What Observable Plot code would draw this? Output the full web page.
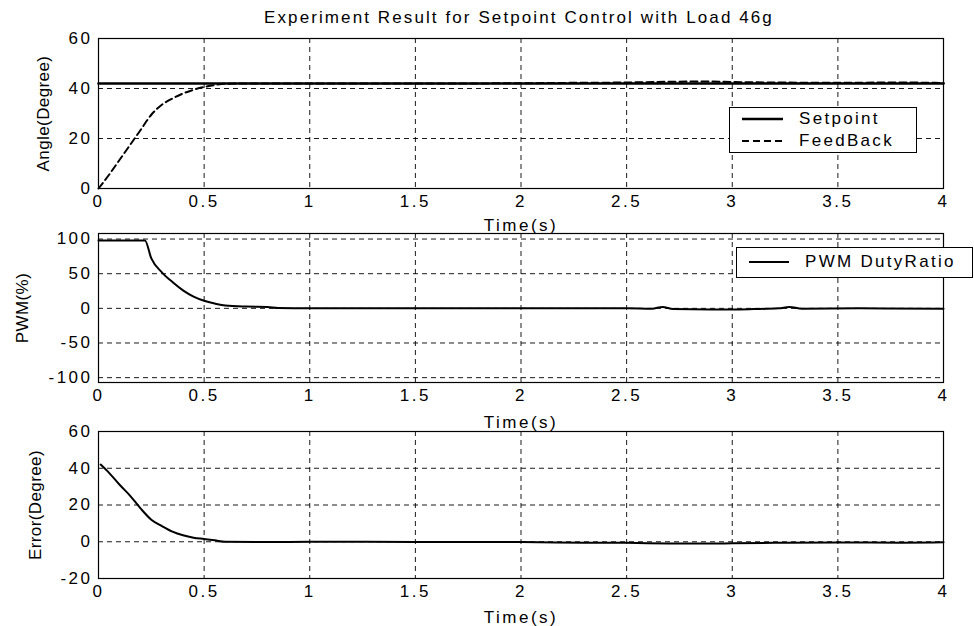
<!DOCTYPE html>
<html><head><meta charset="utf-8">
<script src="https://cdn.jsdelivr.net/npm/d3@7"></script>
<script src="https://cdn.jsdelivr.net/npm/@observablehq/plot@0.6"></script>
<style>
body{margin:0;background:#fff;}
#chart{position:relative;width:974px;height:626px;font-family:"Liberation Sans",Arial,sans-serif;color:#000;overflow:hidden;}
.panel{position:absolute;left:0;}
.title{position:absolute;top:8px;left:0;width:1038px;text-align:center;font-size:17px;letter-spacing:2.1px;white-space:nowrap;}
.legend{position:absolute;box-sizing:border-box;border:1px solid #000;background:#fff;font-size:17px;letter-spacing:2.3px;}
.legend .row{position:absolute;left:0;right:0;height:20px;}
.legend svg{position:absolute;top:0;}
.legend span{position:absolute;top:0;line-height:20px;white-space:nowrap;}
</style>
</head><body>
<div id="chart"><div class="title">Experiment Result for Setpoint Control with Load 46g</div></div>
<script>
// ---------- data ----------
const timeTicks = [0, 0.5, 1, 1.5, 2, 2.5, 3, 3.5, 4];

const setpointTime = [0, 4];
const setpointValues = [42, 42];

const feedbackTime = [0, 0.05, 0.1, 0.15, 0.2, 0.25, 0.3, 0.35, 0.4, 0.45, 0.5, 0.55, 0.6, 0.7, 0.8, 1.0, 1.5, 2.0, 2.3, 2.5, 2.7, 2.9, 3.0, 3.2, 3.5, 3.8, 4.0];
const feedbackValues = [0, 5.5, 11.5, 17.5, 23.5, 29.5, 33.5, 36, 38, 39.5, 40.6, 41.4, 41.9, 42, 42, 42, 42, 42.1, 42.3, 42.4, 42.7, 42.8, 42.6, 42.4, 42.3, 42.4, 42.2];

const pwmTime = [0, 0.22, 0.25, 0.3, 0.35, 0.4, 0.45, 0.5, 0.55, 0.6, 0.7, 0.8, 0.85, 1.0, 1.5, 2.0, 2.5, 2.62, 2.67, 2.72, 2.9, 3.0, 3.1, 3.22, 3.27, 3.33, 3.6, 4.0];
const pwmValues = [98, 98, 72, 52, 38, 26, 17, 11, 7, 4, 2.5, 2, 0.5, 0, 0, 0, 0, -0.5, 2, -1, -1.5, -1.5, -1, 0, 2, -0.5, 0, -0.5];

const errorTime = [0.01, 0.05, 0.1, 0.15, 0.2, 0.25, 0.3, 0.35, 0.4, 0.45, 0.5, 0.55, 0.6, 0.8, 1.0, 1.5, 2.0, 2.3, 2.5, 2.7, 2.9, 3.0, 3.2, 3.5, 3.8, 4.0];
const errorValues = [42, 37.5, 31, 25, 18, 12, 8.5, 5.5, 3.5, 2.2, 1.5, 0.8, 0, -0.2, 0, -0.1, -0.2, -0.5, -0.6, -0.9, -1, -0.8, -0.6, -0.4, -0.5, -0.3];

const angleTicks = [0, 20, 40, 60];
const pwmTicks = [-100, -50, 0, 50, 100];
const errorTicks = [-20, 0, 20, 40, 60];

// ---------- drawing ----------
const chart = document.getElementById("chart");
const fmt = d => String(d);
const gridStyle = {stroke: "#000", strokeOpacity: 1, strokeWidth: 0.9, strokeDasharray: "5,4"};

function panel({top, height, marginTop, marginBottom, yDomain, yTicks, yGrid, yLabel, yLabelOffset, xLabelOffset, lines}) {
  const svg = Plot.plot({
    width: 974, height,
    marginLeft: 98, marginRight: 31, marginTop, marginBottom,
    style: {fontFamily: '"Liberation Sans", Arial, sans-serif', fontSize: "17px", letterSpacing: "2.5px", color: "#000", background: "transparent", overflow: "visible"},
    x: {domain: [0, 4]},
    y: {domain: yDomain},
    marks: [
      Plot.gridX(timeTicks.slice(1, -1), gridStyle),
      Plot.gridY(yGrid, gridStyle),
      Plot.axisX(timeTicks, {tickSize: 0, tickPadding: 6, tickFormat: fmt, label: "Time(s)", labelAnchor: "center", labelOffset: xLabelOffset, labelArrow: "none"}),
      Plot.axisY(yTicks, {tickSize: 0, tickPadding: 6, tickFormat: fmt, label: yLabel, labelAnchor: "center", labelOffset: yLabelOffset, labelArrow: "none"}),
      ...lines,
      Plot.frame({stroke: "#000", strokeWidth: 1.2})
    ]
  });
  svg.classList.add("panel");
  svg.style.top = top + "px";
  const yl = svg.querySelector('[aria-label="y-axis label"]');
  if (yl) yl.style.letterSpacing = "0.4px";
  chart.appendChild(svg);
}

panel({
  top: 0, height: 232, marginTop: 38, marginBottom: 44,
  yDomain: [0, 60], yTicks: angleTicks, yGrid: [20, 40],
  yLabel: "Angle(Degree)", yLabelOffset: 62, xLabelOffset: 42,
  lines: [
    Plot.line(setpointValues, {x: setpointTime, y: setpointValues, stroke: "#000", strokeWidth: 2.6}),
    Plot.line(feedbackValues, {x: feedbackTime, y: feedbackValues, stroke: "#000", strokeWidth: 2, strokeDasharray: "7,4", curve: "monotone-x"})
  ]
});

panel({
  top: 232, height: 196, marginTop: 1, marginBottom: 46,
  yDomain: [-107, 108], yTicks: pwmTicks, yGrid: pwmTicks,
  yLabel: "PWM(%)", yLabelOffset: 83, xLabelOffset: 45,
  lines: [
    Plot.line(pwmValues, {x: pwmTime, y: pwmValues, stroke: "#000", strokeWidth: 2, curve: "monotone-x"})
  ]
});

panel({
  top: 428, height: 198, marginTop: 3, marginBottom: 48,
  yDomain: [-20, 60], yTicks: errorTicks, yGrid: [0, 20, 40],
  yLabel: "Error(Degree)", yLabelOffset: 70, xLabelOffset: 44,
  lines: [
    Plot.line(errorValues, {x: errorTime, y: errorValues, stroke: "#000", strokeWidth: 2, curve: "monotone-x"})
  ]
});

// ---------- legends ----------
function legend({left, top, width, height, items}) {
  const box = document.createElement("div");
  box.className = "legend";
  Object.assign(box.style, {left: left + "px", top: top + "px", width: width + "px", height: height + "px"});
  items.forEach(it => {
    const row = document.createElement("div");
    row.className = "row";
    row.style.top = it.rowTop + "px";
    row.innerHTML = `<svg width="${it.lineX + it.lineW + 2}" height="20" style="left:0"><line x1="${it.lineX}" x2="${it.lineX + it.lineW}" y1="10" y2="10" stroke="#000" stroke-width="${it.sw}" ${it.dash ? `stroke-dasharray="${it.dash}"` : ""}/></svg><span style="left:${it.textX}px">${it.label}</span>`;
    box.appendChild(row);
  });
  chart.appendChild(box);
}

legend({left: 729, top: 107, width: 188, height: 46, items: [
  {label: "Setpoint", rowTop: 1, lineX: 12, lineW: 41, textX: 69, sw: 2.6},
  {label: "FeedBack", rowTop: 23, lineX: 12, lineW: 41, textX: 69, sw: 2, dash: "7,4"}
]});
legend({left: 736, top: 247, width: 237, height: 31, items: [
  {label: "PWM DutyRatio", rowTop: 4, lineX: 12, lineW: 40, textX: 68, sw: 2}
]});
</script>
</body></html>
